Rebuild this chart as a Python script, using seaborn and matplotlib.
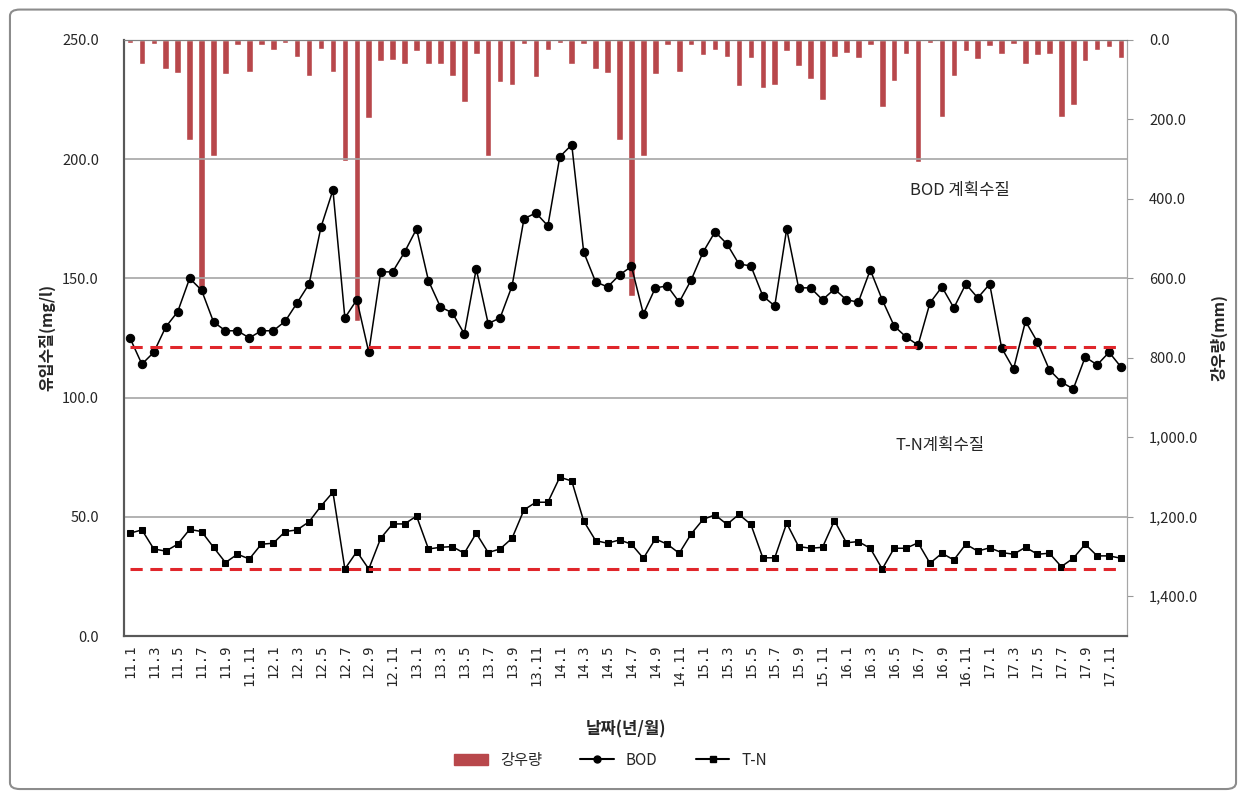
import numpy as np
import matplotlib
matplotlib.use("Agg")
import matplotlib.pyplot as plt
import seaborn as sns
from matplotlib.patches import Patch, FancyBboxPatch
from matplotlib.lines import Line2D

# 월별 데이터 (2011.1 ~ 2017.12)
years = list(range(11, 18))
months = [f"{y}.{m}" for y in years for m in range(1, 13)]

rain = [7, 61, 11, 73, 84, 251, 632, 291, 86, 14,
        82, 14, 25, 7, 42, 90, 23, 82, 304, 708,
        197, 53, 50, 61, 27, 61, 61, 92, 157, 36,
        291, 106, 113, 10, 94, 25, 8, 61, 11, 73,
        84, 251, 645, 291, 86, 13, 82, 13, 39, 25,
        44, 115, 46, 120, 113, 29, 65, 99, 151, 42,
        33, 46, 13, 168, 103, 35, 308, 8, 193, 92,
        29, 49, 15, 36, 11, 61, 38, 36, 193, 163,
        52, 25, 17, 46]

bod = [125, 114, 119, 129.6, 136, 150, 145, 131.7, 128, 128,
       125, 128, 128, 132, 139.7, 147.6, 171.5, 187, 133.4, 141,
       119, 152.7, 152.7, 161, 170.7, 149, 138, 135.5, 126.7, 154,
       131, 133.4, 146.8, 175, 177.4, 172, 201, 206, 161, 148.5,
       146.4, 151.4, 155, 135, 146, 146.8, 140, 149.3, 161, 169.5,
       164.4, 156, 155.2, 142.6, 138.4, 170.7, 146, 146, 141, 145.5,
       141, 140, 153.5, 141, 130, 125.4, 122, 139.7, 146.4, 137.6,
       147.6, 141.8, 147.6, 120.8, 112, 132, 123.3, 111.6, 106.5, 103.6,
       117, 113.7, 119, 112.8]

tn = [43.1, 44.5, 36.5, 35.6, 38.5, 44.7, 43.8, 37.2, 30.8, 34.3,
      32.3, 38.5, 38.9, 43.8, 44.5, 47.9, 54.5, 60.3, 28.1, 35.4,
      28.1, 41, 47, 47, 50.3, 36.5, 37.2, 37.5, 34.7, 43.1,
      35, 36.5, 41, 52.9, 56.1, 56.1, 66.6, 65, 48.2, 40,
      38.9, 40.3, 38.5, 32.6, 40.7, 38.5, 34.7, 42.8, 48.9, 50.8,
      46.8, 51, 46.8, 32.8, 32.8, 47.3, 37.5, 36.8, 37.2, 48.4,
      39.1, 39.6, 36.8, 28.1, 36.8, 36.8, 39.1, 30.5, 34.7, 31.9,
      38.5, 35.6, 37, 35, 34.3, 37.2, 34.3, 34.7, 29.1, 32.6,
      38.5, 33.6, 33.6, 32.6]

bod_plan = 121
tn_plan = 28

left_ticks = [0, 50, 100, 150, 200, 250]
right_ticks = [0, 200, 400, 600, 800, 1000, 1200, 1400]

sns.set_style("white")
plt.rcParams['font.family'] = ['Noto Sans CJK KR', 'DejaVu Sans']

bar_color = "#B8474B"
plan_color = "#E0262B"

x = np.arange(len(months))

fig = plt.figure(figsize=(12.46, 7.97), dpi=100)
ax = fig.add_axes([0.0995, 0.202, 0.805, 0.748])
ax2 = ax.twinx()

# 강우량 막대 (오른쪽 축, 뒤집힘)
sns.barplot(x=x, y=rain, ax=ax2, color=bar_color, width=0.55, saturation=1)
ax2.set_ylim(1500, 0)
ax2.set_yticks(right_ticks)
ax2.set_yticklabels([f"{v:,.1f}" for v in right_ticks], fontsize=10.5)
ax2.tick_params(axis='y', length=4, color="#999999", pad=12)
ax2.set_ylabel("강우량(mm)", fontsize=11.5, fontweight='bold')
ax2.yaxis.set_label_coords(1.083, 0.5)

# 수질 선
ax.set_zorder(ax2.get_zorder() + 1)
ax.patch.set_visible(False)
sns.lineplot(x=x, y=bod, ax=ax, color="black", marker="o", markersize=6,
             markeredgecolor="black", linewidth=1.1)
sns.lineplot(x=x, y=tn, ax=ax, color="black", marker="s", markersize=5,
             markeredgecolor="black", linewidth=1.1)
sns.lineplot(x=x, y=np.full(len(x), bod_plan), ax=ax, color=plan_color,
             linestyle=(0, (4, 2.5)), linewidth=2.2)
sns.lineplot(x=x, y=np.full(len(x), tn_plan), ax=ax, color=plan_color,
             linestyle=(0, (4, 2.5)), linewidth=2.2)

ax.set_ylim(0, 250)
ax.set_yticks(left_ticks)
ax.set_yticklabels([f"{v:.1f}" for v in left_ticks], fontsize=10.5)
ax.tick_params(axis='y', length=0, pad=18)
ax.yaxis.grid(True, color="#A6A6A6", linewidth=1.2)
ax.set_xlim(-0.5, len(x) - 0.5)
ax.set_xticks(x[::2])
ax.set_xticklabels(months[::2], rotation=90, family="DejaVu Sans Mono", fontsize=10)
ax.tick_params(axis='x', length=0, pad=6)
ax2.tick_params(axis='x', length=0)

ax.set_ylabel("유입수질(mg/l)", fontsize=11.5, fontweight='bold')
ax.yaxis.set_label_coords(-0.068, 0.5)
ax.set_xlabel("날짜(년/월)", fontsize=12, fontweight='bold')
ax.xaxis.set_label_coords(0.5, -0.141)

ax.text(65.3, 187, "BOD 계획수질", fontsize=12, va='center')
ax.text(64.1, 80, "T-N계획수질", fontsize=12, va='center')

for a in (ax, ax2):
    a.spines['left'].set_color("#595959")
    a.spines['bottom'].set_color("#595959")
    a.spines['left'].set_linewidth(1.5)
    a.spines['bottom'].set_linewidth(1.5)
    a.spines['top'].set_color("#808080")
    a.spines['right'].set_color("#A6A6A6")

handles = [Patch(color=bar_color, label="강우량"),
           Line2D([], [], color="black", marker="o", markersize=5, label="BOD"),
           Line2D([], [], color="black", marker="s", markersize=4.5, label="T-N")]
fig.legend(handles=handles, loc="center", bbox_to_anchor=(0.49, 0.046), ncol=3,
           frameon=False, fontsize=11, handlelength=2.2, columnspacing=2.5)

border = FancyBboxPatch((0.008, 0.01), 0.984, 0.978,
                        boxstyle="round,pad=0,rounding_size=0.008",
                        transform=fig.transFigure, fill=False,
                        edgecolor="#8C8C8C", linewidth=1.5)
fig.add_artist(border)

fig.savefig("out.png", dpi=100)
